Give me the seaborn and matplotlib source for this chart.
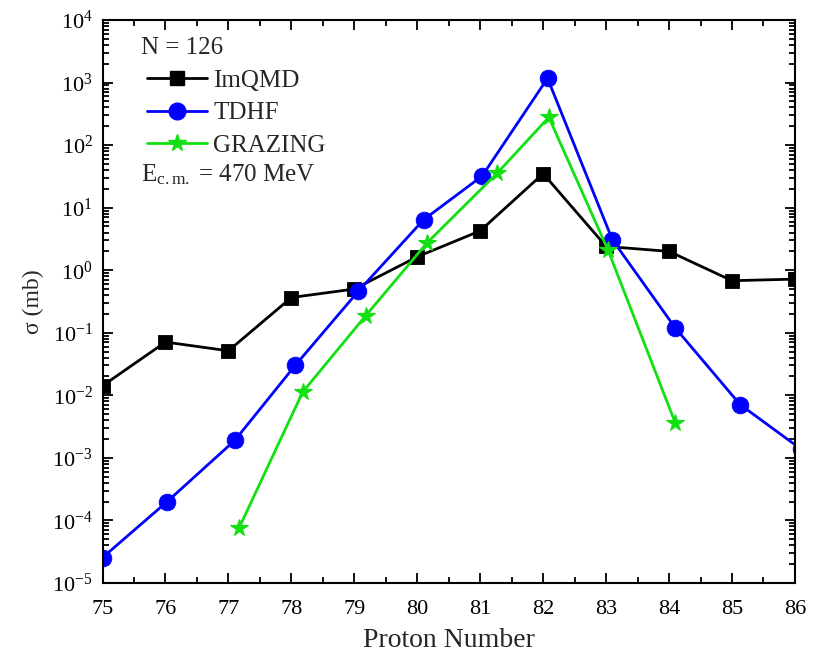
import numpy as np
import pandas as pd
import seaborn as sns
import matplotlib
matplotlib.use("Agg")
import matplotlib.pyplot as plt
from matplotlib.lines import Line2D
from matplotlib.ticker import LogLocator, FixedLocator, MultipleLocator, FuncFormatter

# Cross sections for N = 126 isotones, E_c.m. = 470 MeV
x_imqmd = [75, 76, 77, 78, 79, 80, 81, 82, 83, 84, 85, 86]
sigma_imqmd = [0.0142, 0.071, 0.0515, 0.366, 0.50, 1.64, 4.26, 35.0, 2.4, 2.0, 0.68, 0.72]

x_tdhf = [75.0, 76.02, 77.1, 78.06, 79.06, 80.1, 81.03, 82.07, 83.1, 84.1, 85.13, 86.1]
sigma_tdhf = [2.55e-5, 1.97e-4, 1.9e-3, 0.030, 0.457, 6.4, 32.0, 1170.0, 3.06, 0.119, 7.1e-3, 1.37e-3]

x_grazing = [77.17, 78.18, 79.18, 80.15, 81.27, 82.09, 83.03, 84.1]
sigma_grazing = [7.6e-5, 0.0113, 0.187, 2.7, 35.6, 279.0, 2.1, 3.6e-3]

x_ticks = list(range(75, 87))
y_decades = list(range(-5, 5))

sns.set_theme(style="ticks")
plt.rcParams["font.family"] = ["Liberation Serif", "DejaVu Serif"]
plt.rcParams["mathtext.fontset"] = "custom"
plt.rcParams["mathtext.rm"] = "Liberation Serif"
plt.rcParams["mathtext.it"] = "Liberation Serif:italic"
plt.rcParams["mathtext.bf"] = "Liberation Serif:bold"

fig = plt.figure(figsize=(8.17, 6.6), dpi=100)
ax = fig.add_axes([0.1255, 0.1167, 0.8475, 0.853])

black, blue, green = "#000000", "#0000ff", "#12e012"

series = [
    ("ImQMD", x_imqmd, sigma_imqmd, black, "s", 10),
    ("TDHF", x_tdhf, sigma_tdhf, blue, "o", 12),
    ("GRAZING", x_grazing, sigma_grazing, green, "*", 13),
]

for name, xs, ys, col, mk, ms in series:
    df = pd.DataFrame({"Z": xs, "sigma": ys})
    sns.lineplot(data=df, x="Z", y="sigma", ax=ax, color=col, marker=mk,
                 markersize=ms, markeredgewidth=0.6 if mk != "*" else 0.8,
                 markeredgecolor=col, linewidth=2.0, sort=False,
                 estimator=None, legend=False)

# markers sitting on the frame are cut by the axes box
for ln in ax.lines:
    ln.set_clip_on(True)
    ln.set_clip_box(ax.bbox)

ax.set_yscale("log")
ax.set_xlim(75, 86)
ax.set_ylim(1e-5, 1e4)

ax.xaxis.set_major_locator(FixedLocator(x_ticks))
ax.xaxis.set_minor_locator(MultipleLocator(0.5))
ax.yaxis.set_major_locator(FixedLocator([10.0 ** d for d in y_decades]))
ax.yaxis.set_minor_locator(LogLocator(base=10, subs=np.arange(2, 10), numticks=20))
ax.yaxis.set_major_formatter(FuncFormatter(
    lambda v, p: r"$\mathregular{10^{%d}}$" % int(round(np.log10(v)))))
ax.xaxis.set_major_formatter(FuncFormatter(lambda v, p: "%d" % v))

ax.tick_params(axis="both", which="both", direction="in", top=True, right=True,
               width=1.3, colors="black")
ax.tick_params(axis="both", which="major", length=7, labelsize=16)
ax.tick_params(axis="x", which="major", pad=12)
ax.tick_params(axis="y", which="major", pad=7)
ax.tick_params(axis="both", which="minor", length=4)
ax.tick_params(axis="y", which="minor", length=4.5)

for sp in ax.spines.values():
    sp.set_linewidth(1.5)
    sp.set_color("black")

ax.set_xlabel("Proton Number", fontsize=20, labelpad=7)
ax.set_ylabel("σ (mb)", fontsize=17, labelpad=6)

# Legend block: header text, series handles, beam energy
ax.text(0.055, 0.95, "N = 126", transform=ax.transAxes, fontsize=18,
        va="center", ha="left")
handles = [Line2D([0], [0], color=c, marker=m, markersize=s, linewidth=2.0,
                  markeredgecolor=c)
           for _, _, _, c, m, s in series]
labels = [n for n, *_ in series]
leg = ax.legend(handles, labels, loc="upper left", bbox_to_anchor=(0.05, 0.93),
                frameon=False, fontsize=18, handlelength=2.4, handletextpad=0.25,
                labelspacing=0.4, borderaxespad=0.0)
ax.text(0.055, 0.725, r"E$_{\mathregular{c.m.}}$ = 470 MeV", transform=ax.transAxes,
        fontsize=18, va="center", ha="left")

fig.savefig("out.png", dpi=100)
